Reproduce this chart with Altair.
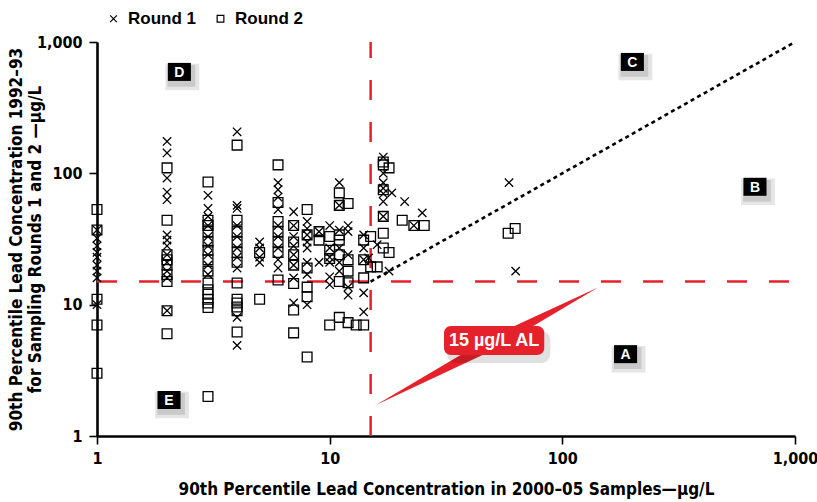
import altair as alt
import pandas as pd

# ---------------- data ----------------
# Round 1 (x markers): x = 2000-05 90th percentile, y = 1992-93 90th percentile
r1_x = ([1] * 9 + [2] * 13 + [3] * 9 + [4] * 10 + [5] * 4 + [6] * 9 + [7] * 8 + [8] * 8
        + [9] * 2 + [10] * 6 + [11] * 6 + [12] * 5 + [14] * 5 + [14.7, 16] + [17] * 7
        + [18.5, 18, 21, 25, 23, 59, 63])
r1_y = ([37, 32, 28, 25, 23, 20, 18, 16, 10]
        + [175, 143, 92, 72, 63, 34, 31, 28, 24, 21, 18, 16, 9]
        + [68, 54, 47, 40, 33, 28, 24, 20, 17]
        + [207, 57, 54, 40, 33, 27, 23, 19, 8, 4.9]
        + [30, 27, 23, 21]
        + [85, 75, 66, 53, 40, 33, 27, 22, 19]
        + [51, 40, 33, 28, 24, 20, 16, 10.3]
        + [43, 38, 34, 30, 27, 21, 17, 10]
        + [36, 21]
        + [40, 27, 23, 21, 16.3, 14.2]
        + [85, 57, 37, 27, 21, 18]
        + [40, 36, 24, 13.6, 11.8]
        + [34, 27, 22, 12.3, 8.8]
        + [22.7, 28.6]
        + [133, 100, 85, 77, 70, 61, 47]
        + [71, 18, 61, 50, 40, 85, 18])

# Round 2 (square markers)
r2_x = ([1] * 5 + [2] * 9 + [3] * 15 + [4] * 12 + [5] * 2 + [6] * 7 + [7] * 7 + [8] * 6
        + [9] * 2 + [10] * 4 + [11] * 7 + [12] * 5 + [13] + [14] * 4 + [15] * 2 + [17] * 6
        + [18] * 2 + [16, 20.5, 23, 25.5, 58.5, 62.7])
r2_y = ([53, 37, 11, 7, 3]
        + [110, 44, 24, 22, 20, 17, 15, 9, 6]
        + [86, 44, 40, 36, 30, 26, 22, 18, 14.6, 13, 12, 11, 10.3, 9.5, 2]
        + [164, 44, 36, 30, 25, 21, 14.6, 11, 10.3, 9.6, 9, 6.2]
        + [25, 11]
        + [116, 60, 43, 36, 30, 25, 15.4]
        + [40, 30, 24, 20, 14.5, 9.1, 6.1]
        + [53, 34, 19, 13.6, 11.5, 4]
        + [36, 31]
        + [33, 26, 22.5, 7]
        + [71, 57, 34, 31, 24, 15, 8]
        + [59, 22, 18, 14.7, 7.3]
        + [7]
        + [31, 22, 16, 7]
        + [33, 19.4]
        + [122, 116, 75, 47, 35, 27]
        + [110, 25]
        + [19.4, 44, 40, 40, 35, 38])

action_level = 15
axis_ticks = [1, 10, 100, 1000]

# quadrant labels
quad_letters = ["C", "D", "B", "A", "E"]
quad_x = [200, 2.26, 673, 187, 2.04]
quad_y = [705, 592, 79, 4.2, 1.88]

# callout "15 µg/L AL"
callout_text = ["15 \u00b5g/L AL"]
callout_x = [50.9]
callout_y = [5.34]
callout_box_x = [31]
callout_box_x2 = [83.6]
callout_box_y = [6.88]
callout_box_y2 = [4.14]
wedge_x = [15.8, 49.4, 143]
wedge_y = [1.72, 5.68, 13.6]
wedge_y2 = [1.72, 4.44, 13.6]

# one-to-one line
diag_x = [15, 1000]
diag_y = [15, 1000]

# ---------------- frames ----------------
pts = pd.DataFrame({
    "x": r1_x + r2_x,
    "y": r1_y + r2_y,
    "Round": ["Round 1"] * len(r1_x) + ["Round 2"] * len(r2_x),
})
quad = pd.DataFrame({"letter": quad_letters, "x": quad_x, "y": quad_y})
call = pd.DataFrame({"t": callout_text, "x": callout_x, "y": callout_y,
                     "bx": callout_box_x, "bx2": callout_box_x2,
                     "by": callout_box_y, "by2": callout_box_y2})
wedge = pd.DataFrame({"x": wedge_x, "y": wedge_y, "y2": wedge_y2})
diag = pd.DataFrame({"x": diag_x, "y": diag_y})
hline = pd.DataFrame({"x": [1], "x2": [1000], "y": [action_level]})
vline = pd.DataFrame({"y": [1], "y2": [1000], "x": [action_level]})

RED = "#E5222B"
COND = "Liberation Sans Narrow, DejaVu Sans Condensed, Arial Narrow, sans-serif"
SANS = "Liberation Sans, Arial, Helvetica, sans-serif"

xscale = alt.Scale(type="log", domain=[1, 1000], nice=False)
yscale = alt.Scale(type="log", domain=[1, 1000], nice=False)

xaxis = alt.Axis(values=axis_ticks, format=",", grid=False, labelFlush=False,
                 title="90th Percentile Lead Concentration in 2000\u201305 Samples\u2014\u00b5g/L",
                 titleY=45, titleX=349, titleBaseline="top")
yaxis = alt.Axis(values=axis_ticks, format=",", grid=False, labelFlush=False,
                 title=["90th Percentile Lead Concentration 1992\u201393",
                        "for Sampling Rounds 1 and 2 \u2014\u00b5g/L"],
                 titleX=-89, titleY=197, titleBaseline="top", titleAlign="center",
                 titleAngle=270, titleLineHeight=19)

X = alt.X("x:Q", scale=xscale, axis=xaxis)
Y = alt.Y("y:Q", scale=yscale, axis=yaxis)

h_rule = alt.Chart(hline).mark_rule(color=RED, strokeWidth=2.5, strokeDash=[20, 22]).encode(
    x=alt.X("x:Q", scale=xscale, axis=xaxis), x2="x2:Q", y=alt.Y("y:Q", scale=yscale, axis=yaxis))
v_rule = alt.Chart(vline).mark_rule(color=RED, strokeWidth=2.5, strokeDash=[20, 22]).encode(
    y=alt.Y("y:Q", scale=yscale, axis=yaxis), y2="y2:Q", x=alt.X("x:Q", scale=xscale, axis=xaxis))
diag_line = alt.Chart(diag).mark_line(color="black", strokeWidth=2.6, strokeDash=[4, 3.5]).encode(x=X, y=Y)

wedge_area = alt.Chart(wedge).mark_area(color=RED, opacity=1).encode(x=X, y=Y, y2="y2:Q")

call_shadow = alt.Chart(call).mark_rect(color="#000", opacity=0.12, cornerRadius=9,
                                        xOffset=3, yOffset=5, x2Offset=6, y2Offset=8).encode(
    x=alt.X("bx:Q", scale=xscale, axis=xaxis), x2="bx2:Q",
    y=alt.Y("by:Q", scale=yscale, axis=yaxis), y2="by2:Q")
call_box = alt.Chart(call).mark_rect(color=RED, cornerRadius=7).encode(
    x=alt.X("bx:Q", scale=xscale, axis=xaxis), x2="bx2:Q",
    y=alt.Y("by:Q", scale=yscale, axis=yaxis), y2="by2:Q")
call_text = alt.Chart(call).mark_text(color="white", font=SANS, fontWeight="bold", fontSize=18,
                                      baseline="middle", align="center", dy=1).encode(
    x=X, y=Y, text="t:N")

CROSS = "M-1,-1L1,1M1,-1L-1,1"
points = alt.Chart(pts).mark_point(filled=False, color="black", strokeWidth=1.3, opacity=1).encode(
    x=X, y=Y,
    shape=alt.Shape("Round:N", scale=alt.Scale(domain=["Round 1", "Round 2"], range=[CROSS, "square"]),
                    legend=alt.Legend(title=None, orient="none", legendX=8, legendY=-32,
                                      direction="horizontal", labelFont=SANS, labelFontSize=17,
                                      labelFontWeight="bold", labelColor="black", symbolSize=45,
                                      symbolStrokeWidth=1.2, symbolStrokeColor="black",
                                      columnPadding=16, labelOffset=6)),
    size=alt.condition("datum.Round == 'Round 1'", alt.value(70), alt.value(95)),
)

BOX = "M-1.28,-1L1.28,-1L1.28,1L-1.28,1Z"
quad_shadow1 = alt.Chart(quad).mark_point(shape=BOX, filled=True, color="#000", opacity=0.10,
                                          size=700, xOffset=3, yOffset=5).encode(x=X, y=Y)
quad_shadow2 = alt.Chart(quad).mark_point(shape=BOX, filled=True, color="#000", opacity=0.12,
                                          size=470, xOffset=2, yOffset=4).encode(x=X, y=Y)
quad_box = alt.Chart(quad).mark_point(shape=BOX, filled=True, color="black", opacity=1,
                                      size=324).encode(x=X, y=Y)
quad_text = alt.Chart(quad).mark_text(color="white", font=SANS, fontWeight="bold", fontSize=14,
                                      baseline="middle", align="center", dy=1).encode(
    x=X, y=Y, text="letter:N")

chart = alt.layer(
    h_rule, v_rule, diag_line, points,
    wedge_area, call_shadow, call_box, call_text,
    quad_shadow1, quad_shadow2, quad_box, quad_text,
).properties(
    width=698, height=394,
    autosize=alt.AutoSizeParams(type="none"),
    padding={"left": 97, "top": 42, "right": 22, "bottom": 66},
    background="white",
).configure_view(stroke=None).configure_axis(
    domainColor="black", domainWidth=2.6, tickColor="black", tickWidth=1.6, tickSize=8,
    labelFont=COND, labelFontSize=16, labelFontWeight="bold", labelColor="black", labelPadding=6,
    titleFont=COND, titleFontSize=17, titleFontWeight="bold", titleColor="black",
).configure_axisY(labelPadding=7)

chart.save("out.html", embed_options={"renderer": "svg", "actions": False})
